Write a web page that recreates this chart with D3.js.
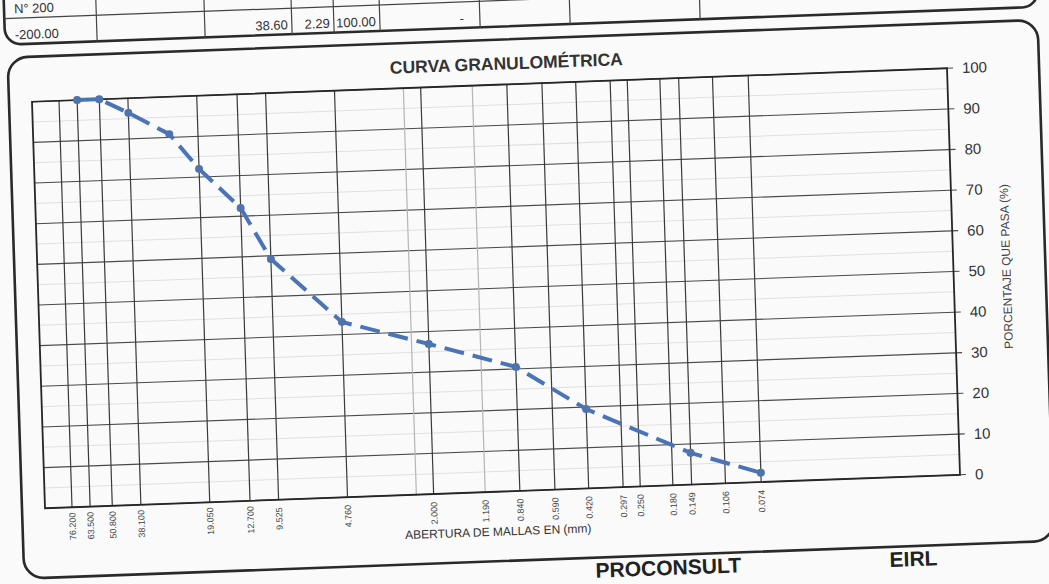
<!DOCTYPE html>
<html>
<head>
<meta charset="utf-8">
<script src="https://cdn.jsdelivr.net/npm/d3@7"></script>
<style>
  body { margin: 0; background: #fafafa; }
  svg { display: block; font-family: "Liberation Sans", Arial, sans-serif; }
</style>
</head>
<body>
<div id="chart"></div>
<script>
// sieve openings (mm) that get a vertical grid line + label
const sieveSizes  = [76.2, 63.5, 50.8, 38.1, 19.05, 12.7, 9.525, 4.76, 2.38, 2.0, 1.19, 0.84, 0.59, 0.42, 0.297, 0.25, 0.18, 0.149, 0.106, 0.074];
const sieveLabels = ["76.200", "63.500", "50.800", "38.100", "19.050", "12.700", "9.525", "4.760", "", "2.000", "1.190", "0.840", "0.590", "0.420", "0.297", "0.250", "0.180", "0.149", "0.106", "0.074"];
const faintSieves = [2.38, 1.19];

// curve: opening (mm) vs % passing
const passSize = [63.5, 50.8, 38.1, 25.4, 19.05, 12.7, 9.525, 4.76, 2.0, 0.84, 0.42, 0.149, 0.074];
const passPct  = [100, 100, 96.4, 90.8, 82.0, 72.0, 59.2, 43.1, 36.9, 30.5, 19.5, 7.8, 2.29];

const yTicks = [0, 10, 20, 30, 40, 50, 60, 70, 80, 90, 100];

// table fragment above the chart
const prevRow  = ["N° 200"];
const tableRow = ["-200.00", "", "38.60", "2.29", "100.00", "-"];

(function() {
    const width = 1049,
          height = 584;
    const W = 915, H = 406.5;

    const svg = d3.select("#chart")
        .append("svg")
        .attr("width", width)
        .attr("height", height)

    svg.append("rect")
        .attr("width", width)
        .attr("height", height)
        .attr("fill", "#fafafa")

    // the scanned sheet is slightly tilted
    const g = svg.append("g")
        .attr("transform", "matrix(1,-0.0366,0.032,1,32,101.75)")

    const x = d3.scaleLog().domain([100, 0.01]).range([0, W]);
    const y = d3.scaleLinear().domain([0, 100]).range([H, 0]);

    // ---- table fragment
    const cols = [-25, 67, 175, 262, 304, 350, 450, 540, 670, 1008];
    const table = g.append("g");
    table.append("rect")
        .attr("x", -25).attr("y", -160)
        .attr("width", 1033).attr("height", 102)
        .attr("rx", 16)
        .attr("fill", "none").attr("stroke", "#2a2a2a").attr("stroke-width", 2.6)
    table.append("line")
        .attr("x1", -25).attr("x2", 1008).attr("y1", -84).attr("y2", -84)
        .attr("stroke", "#444").attr("stroke-width", 1.2)
    table.selectAll(".col")
        .data(cols.slice(1, -1))
        .enter().append("line")
        .attr("x1", d => d).attr("x2", d => d)
        .attr("y1", -160).attr("y2", -58)
        .attr("stroke", "#444").attr("stroke-width", 1.2)
    table.selectAll(".prev")
        .data(prevRow)
        .enter().append("text")
        .attr("x", -15).attr("y", -89)
        .attr("font-size", 13).attr("fill", "#333")
        .text(d => d)
    table.selectAll(".cell")
        .data(tableRow)
        .enter().append("text")
        .attr("x", (d, i) => i === 0 ? -15 : cols[i + 1] - (i === 5 ? 16 : 4))
        .attr("y", -63)
        .attr("text-anchor", (d, i) => i === 0 ? "start" : "end")
        .attr("font-size", 13).attr("fill", "#333")
        .text(d => d)

    // ---- chart frame
    g.append("rect")
        .attr("x", -23).attr("y", -45)
        .attr("width", 1030).attr("height", 521)
        .attr("rx", 20)
        .attr("fill", "none").attr("stroke", "#2a2a2a").attr("stroke-width", 2.6)

    g.append("text")
        .attr("x", 475).attr("y", -15)
        .attr("text-anchor", "middle")
        .attr("font-size", 17.5).attr("font-weight", "bold").attr("fill", "#333")
        .text("CURVA GRANULOMÉTRICA")

    // ---- grid
    g.selectAll(".minor")
        .data(yTicks.slice(0, -1))
        .enter().append("line")
        .attr("x1", 0).attr("x2", W)
        .attr("y1", d => y(d + 5)).attr("y2", d => y(d + 5))
        .attr("stroke", "#e0e0e0").attr("stroke-width", 1)

    g.selectAll(".hgrid")
        .data(yTicks)
        .enter().append("line")
        .attr("x1", 0).attr("x2", W + 6)
        .attr("y1", d => y(d)).attr("y2", d => y(d))
        .attr("stroke", "#4a4a4a").attr("stroke-width", 1.1)

    g.selectAll(".vgrid")
        .data(sieveSizes)
        .enter().append("line")
        .attr("x1", d => x(d)).attr("x2", d => x(d))
        .attr("y1", 0).attr("y2", H)
        .attr("stroke", d => faintSieves.includes(d) ? "#b5b5b5" : "#3a3a3a")
        .attr("stroke-width", 1.2)

    g.append("rect")
        .attr("width", W).attr("height", H)
        .attr("fill", "none").attr("stroke", "#262626").attr("stroke-width", 1.8)

    // ---- right axis
    g.selectAll(".ylab")
        .data(yTicks)
        .enter().append("text")
        .attr("x", W + 15).attr("y", d => y(d))
        .attr("dy", "0.36em")
        .attr("font-size", 15).attr("fill", "#333")
        .text(d => d)

    g.append("text")
        .attr("transform", `translate(${W + 57},${H / 2 - 3}) rotate(-90)`)
        .attr("text-anchor", "middle")
        .attr("font-size", 12).attr("fill", "#444")
        .text("PORCENTAJE QUE PASA (%)")

    // ---- bottom labels
    g.selectAll(".xlab")
        .data(sieveSizes)
        .enter().append("text")
        .attr("transform", d => `translate(${x(d)},${H + 19}) rotate(-90)`)
        .attr("text-anchor", "middle")
        .attr("dy", "0.35em")
        .attr("font-size", 9).attr("fill", "#444")
        .text((d, i) => sieveLabels[i])

    g.append("text")
        .attr("x", 452).attr("y", H + 44)
        .attr("text-anchor", "middle")
        .attr("font-size", 12).attr("fill", "#333")
        .text("ABERTURA DE MALLAS EN (mm)")

    // ---- curve
    const pts = passSize.map((d, i) => [d, passPct[i]]);
    const line = d3.line()
        .x(d => x(d[0]))
        .y(d => y(d[1]));

    g.append("path")
        .datum(pts)
        .attr("d", line)
        .attr("fill", "none")
        .attr("stroke", "#4b74b6")
        .attr("stroke-width", 4)
        .attr("stroke-dasharray", "20,9")

    g.selectAll(".pt")
        .data(pts)
        .enter().append("circle")
        .attr("cx", d => x(d[0]))
        .attr("cy", d => y(d[1]))
        .attr("r", 4)
        .attr("fill", "#4f73ad")

    // ---- company stamp at the page edge
    g.append("text")
        .attr("x", 548).attr("y", 496)
        .attr("font-size", 21).attr("font-weight", "bold").attr("fill", "#222")
        .text("PROCONSULT")
    g.append("text")
        .attr("x", 842).attr("y", 496)
        .attr("font-size", 21).attr("font-weight", "bold").attr("fill", "#222")
        .text("EIRL")
})();
</script>
</body>
</html>
